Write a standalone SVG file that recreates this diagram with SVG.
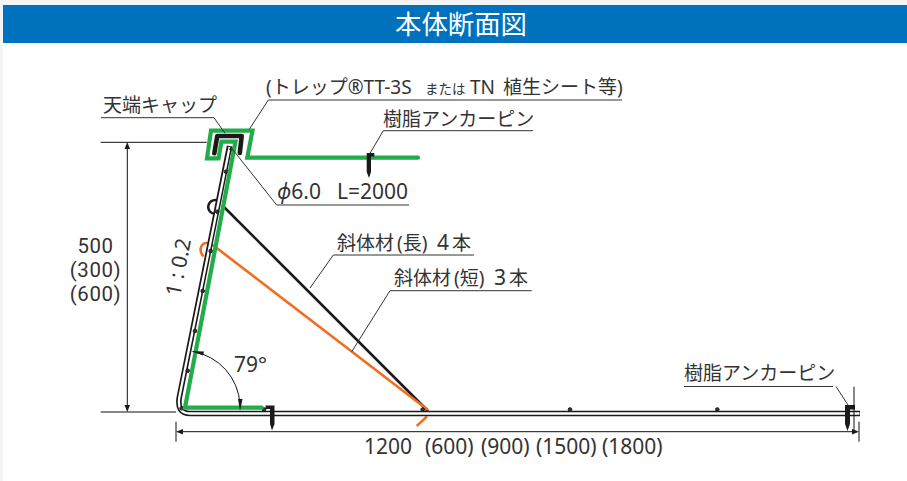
<svg xmlns="http://www.w3.org/2000/svg" width="907" height="481" viewBox="0 0 907 481">
<style>
text{font-family:"Noto Sans","Noto Sans CJK JP","Liberation Sans",sans-serif;font-size:19px;fill:#333}
.n{font-size:21px}
.r{font-family:Roboto,"Noto Sans",sans-serif;font-size:20.400px;letter-spacing:.6px}
.g{fill:none;stroke:#22ac4a;stroke-width:4.200;stroke-linejoin:miter}
.l{fill:none;stroke:#333;stroke-width:1}
.d{fill:none;stroke:#111;stroke-width:1}
.k{fill:#1a1a1a}
.b{fill:#333;stroke:#1a1a1a;stroke-width:1}
</style>
<rect width="907" height="481" fill="#f4f4f4"/>
<rect x="3" y="5" width="904" height="476" fill="#fff"/>
<g id="header">
<rect x="3" y="5" width="904" height="38" fill="#0071bc"/>
<text x="461" y="34" text-anchor="middle" style="font-size:26.400px;fill:#fff">本体断面図</text>
</g>
<g id="braces">
<path d="M219.500,201.500A7,7 0 1 0 216,214" fill="none" stroke="#1a1a1a" stroke-width="2.400"/>
<path d="M222,205L428,411" fill="none" stroke="#1a1a1a" stroke-width="2.600"/>
<path d="M203.500,256.500C198,250 201,243 207,243C211,243 214,245.500 218,249L428,410" fill="none" stroke="#f26d21" stroke-width="2.600"/>
<path d="M416.700,426L427,416.500" fill="none" stroke="#f26d21" stroke-width="2.400"/>
</g>
<g id="rod">
<path d="M229.600,146L179.200,398Q177,413.500 190,413.500L860,413.500" fill="none" stroke="#1a1a1a" stroke-width="5.600"/>
<path d="M229.600,147L179.200,398Q177,413.500 190,413.500L859.500,413.500" fill="none" stroke="#fff" stroke-width="2.300"/>
</g>
<g id="bolts">
<circle class="b" cx="231.700" cy="149.300" r="1.800"/><circle class="b" cx="226" cy="171.700" r="1.800"/><circle class="b" cx="217.300" cy="211.700" r="1.800"/><circle class="b" cx="210.700" cy="251" r="1.800"/><circle class="b" cx="202.700" cy="291" r="1.800"/><circle class="b" cx="195" cy="331" r="1.800"/><circle class="b" cx="187.700" cy="370.700" r="1.800"/><circle class="b" cx="181.700" cy="408.300" r="1.800"/><circle class="b" cx="264" cy="409.500" r="1.800"/><circle class="b" cx="422.700" cy="409.500" r="1.800"/><circle class="b" cx="570" cy="409.500" r="1.800"/><circle class="b" cx="717.300" cy="409.500" r="1.800"/>
</g>
<g id="mat">
<path class="g" d="M418,157.700H247.300L252.500,130.700H211L207,158.300H218.500L221.500,141.700H235.500L185,407.700H261.700" stroke-linecap="round"/>
</g>
<g id="cap">
<path d="M214.300,153.300L217.300,136H241.700L239.800,153" fill="none" stroke="#1a1a1a" stroke-width="4.600" stroke-linecap="round" stroke-linejoin="round"/>
</g>
<g id="anchors">
<path class="k" d="M366.700,153H374.300V156.500H371V172L369,178L366.700,172Z"/>
<path class="k" d="M265.500,405.500H274.500V424L272,430.500L270,424V409H265.500Z"/>
<path class="k" d="M845,405H855V409.500H850V424L847.500,431L845,424Z"/>
</g>
<g id="connectors">
<path class="l" d="M101,117.700H214L225,133.300"/>
<path class="l" d="M622,100H268.300L249.300,129.300"/>
<path class="l" d="M533,130.700H383.300L370,153.300"/>
<path class="l" d="M409,205H276.700L231.700,148.300"/>
<path class="l" d="M474,255H333.300L310,288"/>
<path class="l" d="M531.700,290.700H390L351.700,351.700"/>
<path class="l" d="M833,386.500H684M836,386.500L848,405"/>
<path class="d" d="M100.700,142.300H206.700M100.700,412H176M127.300,148V406M176,421.700V441.700M859,421.700V441.700M181,431.700H854M854,386.700V433"/>
<path class="d" d="M193,351.500A57,57 0 0 1 240,404"/>
<path class="k" d="M127.300,142L124.500,149H130Z"/>
<path class="k" d="M127.300,412L124.500,405H130Z"/>
<path class="k" d="M176,431.700L183,429V434.500Z"/>
<path class="k" d="M859,431.700L852,429V434.500Z"/>
<path class="k" d="M191,351L204,351.500L203,355.500Z"/>
<path class="k" d="M240,411L238,399H242.500Z"/>
</g>
<g id="labels">
<text x="103" y="112">天端キャップ</text>
<text x="266" y="94">(トレップ®TT-3S<tspan x="425" style="font-size:13.500px">または</tspan><tspan x="470">TN</tspan><tspan x="503">植生シート等)</tspan></text>
<text x="383" y="126">樹脂アンカーピン</text>
<text class="n" x="277" y="199"><tspan font-style="italic">ϕ</tspan>6.0<tspan x="337">L=2000</tspan></text>
<text x="337" y="250">斜体材<tspan x="397">(長)</tspan><tspan x="437" class="n">4</tspan><tspan x="452">本</tspan></text>
<text x="394" y="285">斜体材<tspan x="454">(短)</tspan><tspan x="494" class="n">3</tspan><tspan x="509">本</tspan></text>
<text class="r" x="95.500" y="252.500" text-anchor="middle">500</text>
<text class="r" x="95.500" y="276.500" text-anchor="middle">(300)</text>
<text class="r" x="95.500" y="300.500" text-anchor="middle">(600)</text>
<text class="n" transform="translate(180,297) rotate(-79)">1 : 0.2</text>
<text class="n" x="234" y="372">79°</text>
<text x="684" y="380">樹脂アンカーピン</text>
<text class="n" x="364" y="454">1200<tspan x="425">(600)</tspan><tspan x="481">(900)</tspan><tspan x="536">(1500)</tspan><tspan x="602">(1800)</tspan></text>
</g>
</svg>
